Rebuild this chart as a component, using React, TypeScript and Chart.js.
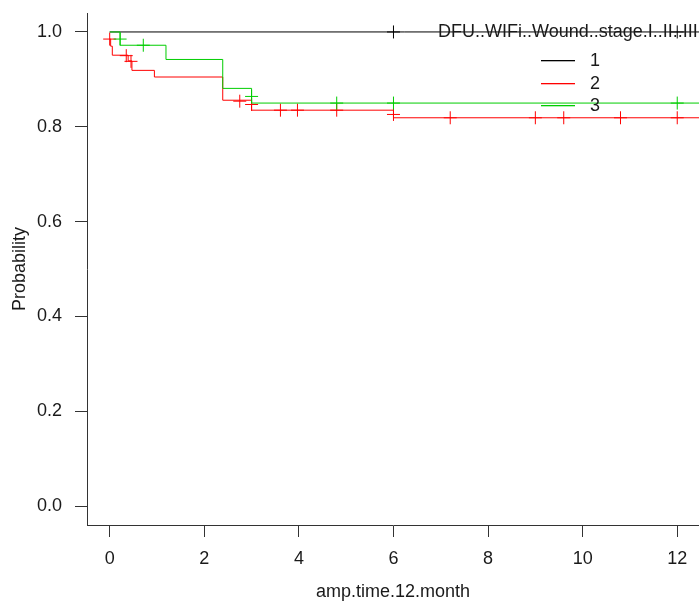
import React, { useEffect, useRef } from 'react';
import { Chart, registerables } from 'chart.js';

Chart.register(...registerables);

const FONT = '"Liberation Sans", Arial, Helvetica, sans-serif';
const TEXT = '#1a1a1a';
const AXIS = '#333333';

const xTickValues = [0, 2, 4, 6, 8, 10, 12];
const yTickValues = [0, 0.2, 0.4, 0.6, 0.8, 1.0];
const xTitle = 'amp.time.12.month';
const yTitle = 'Probability';
const legendTitle = 'DFU..WIFi..Wound..stage.I..II..III';
const groupNames = ['1', '2', '3'];
const groupColors = ['#000000', '#FF0000', '#00CD00'];

// group 1
const g1Times = [0, 12.5];
const g1Surv = [1.0, 1.0];
const g1CensorTimes = [6.0, 12.0];
const g1CensorSurv = [1.0, 1.0];

// group 2
const g2Times = [0, 0.02, 0.055, 0.39, 0.47, 0.945, 2.39, 3.0, 6.0, 12.5];
const g2Surv = [0.985, 0.970, 0.951, 0.939, 0.919, 0.905, 0.856, 0.835, 0.819, 0.819];
const g2CensorTimes = [0.0, 0.35, 0.45, 2.75, 3.0, 3.61, 3.97, 4.8, 6.0, 7.2, 9.0, 9.6, 10.8, 12.0];
const g2CensorSurv = [0.985, 0.950, 0.938, 0.854, 0.847, 0.835, 0.835, 0.835, 0.826, 0.819, 0.819, 0.819, 0.819, 0.819];

// group 3
const g3Times = [0, 0.22, 1.19, 2.39, 3.0, 12.5];
const g3Surv = [1.0, 0.972, 0.942, 0.881, 0.850, 0.850];
const g3CensorTimes = [0.22, 0.71, 3.0, 4.8, 6.0, 12.0];
const g3CensorSurv = [0.985, 0.972, 0.864, 0.850, 0.850, 0.850];

const curveTimes = [g1Times, g2Times, g3Times];
const curveSurv = [g1Surv, g2Surv, g3Surv];
const censorTimes = [g1CensorTimes, g2CensorTimes, g3CensorTimes];
const censorSurv = [g1CensorSurv, g2CensorSurv, g3CensorSurv];

const legendPlugin = {
  id: 'kmLegend',
  afterDatasetsDraw(chart: any) {
    const ctx = chart.ctx as CanvasRenderingContext2D;
    ctx.save();
    ctx.font = `18px ${FONT}`;
    ctx.fillStyle = TEXT;
    ctx.textAlign = 'left';
    ctx.textBaseline = 'alphabetic';
    ctx.fillText(legendTitle, 438, 36.5);
    groupNames.forEach((name, i) => {
      const y = Math.round(60 + i * 22.7);
      ctx.fillStyle = groupColors[i];
      ctx.fillRect(541, y, 34, 1.3);
      ctx.textBaseline = 'middle';
      ctx.fillStyle = TEXT;
      ctx.fillText(name, 590, y + 1.5);
    });
    ctx.restore();
  },
};

const zeroPadding = (s: any) => {
  s.paddingTop = 0;
  s.paddingBottom = 0;
  s.paddingLeft = 0;
  s.paddingRight = 0;
};

export default function App() {
  const ref = useRef<HTMLCanvasElement>(null);

  useEffect(() => {
    if (!ref.current) return;
    const datasets: any[] = [];
    // draw order: group 1 at the bottom, group 3 on top (dataset 0 is drawn last)
    for (let g = 2; g >= 0; g--) {
      datasets.push({
        label: 'censor ' + groupNames[g],
        data: censorTimes[g].map((t, i) => ({ x: t, y: censorSurv[g][i] })),
        showLine: false,
        pointStyle: 'cross',
        pointRadius: 6.5,
        pointHoverRadius: 6.5,
        borderWidth: 1,
        pointBorderWidth: 1,
        borderColor: groupColors[g],
        backgroundColor: groupColors[g],
      });
      datasets.push({
        label: groupNames[g],
        data: curveTimes[g].map((t, i) => ({ x: t, y: curveSurv[g][i] })),
        showLine: true,
        stepped: true,
        pointRadius: 0,
        pointHoverRadius: 0,
        borderWidth: 1,
        borderColor: groupColors[g],
        backgroundColor: groupColors[g],
        fill: false,
      });
    }

    const chart = new Chart(ref.current, {
      type: 'scatter',
      data: { datasets },
      plugins: [legendPlugin],
      options: {
        animation: false,
        responsive: true,
        maintainAspectRatio: false,
        devicePixelRatio: 1,
        events: [],
        layout: { autoPadding: false, padding: { top: 13, left: 0, right: 0, bottom: 0 } },
        plugins: {
          legend: { display: false },
          tooltip: { enabled: false },
          title: { display: false },
        },
        scales: {
          x: {
            type: 'linear',
            min: -0.48,
            max: 12.46,
            afterBuildTicks: (s: any) => {
              s.ticks = xTickValues.map((v) => ({ value: v }));
            },
            afterFit: (s: any) => {
              s.height = 79;
              zeroPadding(s);
            },
            grid: {
              display: true,
              drawOnChartArea: false,
              drawTicks: true,
              tickLength: 12,
              color: AXIS,
              lineWidth: 1,
            },
            border: { display: true, color: AXIS, width: 1 },
            ticks: {
              font: { family: FONT, size: 18 },
              color: TEXT,
              padding: 11,
              maxRotation: 0,
              autoSkip: false,
              callback: (v: any) => String(v),
            },
            title: {
              display: true,
              text: xTitle,
              font: { family: FONT, size: 18 },
              color: TEXT,
              padding: { top: 0, bottom: 1 },
            },
          },
          y: {
            type: 'linear',
            min: -0.04,
            max: 1.04,
            afterBuildTicks: (s: any) => {
              s.ticks = yTickValues.map((v) => ({ value: v }));
            },
            afterFit: (s: any) => {
              s.width = 87;
              zeroPadding(s);
            },
            grid: {
              display: true,
              drawOnChartArea: false,
              drawTicks: true,
              tickLength: 12,
              color: AXIS,
              lineWidth: 1,
            },
            border: { display: true, color: AXIS, width: 1 },
            ticks: {
              font: { family: FONT, size: 18 },
              color: TEXT,
              padding: 13,
              autoSkip: false,
              callback: (v: any) => Number(v).toFixed(1),
            },
            title: {
              display: true,
              text: yTitle,
              font: { family: FONT, size: 18 },
              color: TEXT,
              padding: { top: 9, bottom: 0 },
            },
          },
        },
      },
    });
    return () => chart.destroy();
  }, []);

  return (
    <div style={{ position: 'absolute', left: 0, top: 0, width: 699, height: 604, background: '#ffffff' }}>
      <canvas ref={ref} style={{ display: 'block' }} />
    </div>
  );
}
